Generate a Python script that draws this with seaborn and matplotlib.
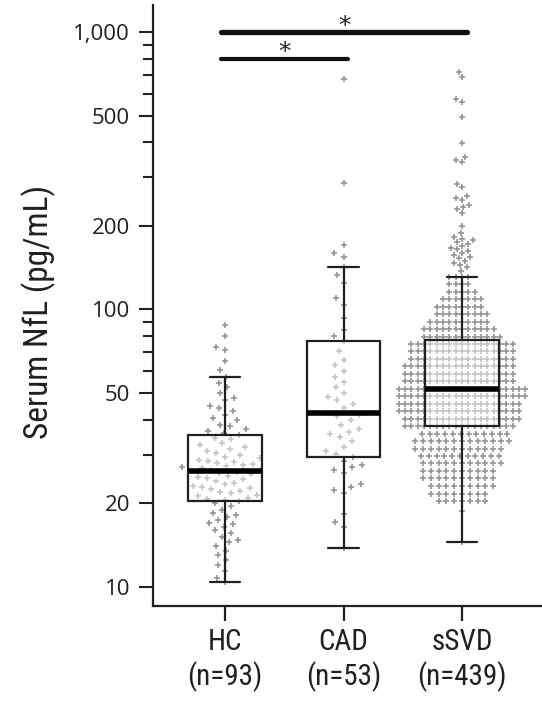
import numpy as np
import pandas as pd
import matplotlib
matplotlib.use("Agg")
import matplotlib.pyplot as plt
from matplotlib import font_manager
from matplotlib.ticker import FixedLocator, FixedFormatter, NullFormatter
import seaborn as sns
import seaborn.categorical as sc

# ---------------- data ----------------
groups = ["HC", "CAD", "sSVD"]
group_ns = [93, 53, 439]

hc_values = [88, 80, 73.5, 71.5, 65, 60.5,
             57.0, 54.5, 52.5, 50.0, 48.0, 47.0, 45.0, 44.0, 43.0, 41.5, 40.5, 40.0,
             38.5, 38.0, 37.0, 36.5, 35.8,
             35.3, 34.5, 34.0, 33.0, 32.5, 32.0, 31.5, 31.0, 30.5, 30.0, 29.5, 29.2,
             28.8, 28.5, 28.2, 28.0, 27.8, 27.5, 27.2, 27.0, 26.8, 26.5, 26.3,
             26.2,
             26.0, 25.8, 25.5, 25.2, 25.0, 24.7, 24.4, 24.0, 23.7, 23.5, 23.2, 23.0,
             22.7, 22.5, 22.2, 22.0, 21.8, 21.5, 21.3, 21.0, 20.8, 20.6, 20.4,
             20.0, 19.5, 19.0, 18.5, 18.2, 17.8, 17.4, 17.0, 16.8, 16.4, 16.0, 15.6,
             15.2, 14.8, 14.5, 14.0, 13.5, 13.0, 12.5, 12.0, 11.4, 10.8, 10.4]

cad_values = [28.5, 27.5, 27.0, 26.5, 25.8, 23.5, 23.0, 22.3, 21.8, 18.3, 17.2, 16.4, 13.8,
              29.4, 30.2, 31.0, 32.0, 33.5, 34.6, 35.5, 36.3, 37.2, 38.5, 40.0, 41.4, 41.8,
              42.4,
              44.0, 45.5, 47.0, 48.5, 50.0, 52.5, 55.0, 57.0, 60.0, 63.0, 66.0, 71.0, 77.0,
              80, 84, 93, 104, 110, 125, 133, 142, 155, 160, 171, 286, 676]

# sSVD: dot-plot rows (level, number of points in the row) + individual high points
ssvd_levels = [14.5, 18.8, 20.4, 21.7, 23.1, 24.6, 26.2, 27.9, 29.6, 31.5, 33.6, 35.7,
               38.0, 40.4, 43.0, 45.8, 48.7, 51.8, 55.1, 58.6, 62.4, 66.4, 70.6, 75.1,
               79.9, 85.0, 90.5, 96.3, 102.4, 109.0, 116.0, 123.4, 131.3]
ssvd_counts = [1, 1, 7, 8, 9, 10, 10, 11, 11, 12, 13, 12,
               18, 19, 20, 20, 21, 21, 18, 18, 18, 17, 17, 17,
               13, 12, 10, 9, 8, 7, 5, 4, 4]
ssvd_high = [138, 142, 145, 147, 150, 153, 155, 157, 160, 163, 165, 167, 170, 172,
             175, 178, 180, 183, 189, 200, 223, 230, 235, 238, 248, 252, 256, 276,
             283, 340, 347, 355, 398, 494, 560, 572, 690, 720]

y_ticks = [10, 20, 50, 100, 200, 500, 1000]
y_ticklabels = ["10", "20", "50", "100", "200", "500", "1,000"]
y_minor = [30, 40, 60, 70, 80, 90, 300, 400, 600, 700, 800, 900]

comparisons = [("HC", "sSVD"), ("HC", "CAD")]
comparison_levels = [1000, 800]
comparison_marks = ["*", "*"]

# ---------------- build table ----------------
ssvd_values = list(np.repeat(ssvd_levels, ssvd_counts)) + ssvd_high
df = pd.DataFrame({
    "group": ["HC"] * len(hc_values) + ["CAD"] * len(cad_values) + ["sSVD"] * len(ssvd_values),
    "nfl": hc_values + cad_values + ssvd_values,
})

# swarm layout: wider gutter and per-group point spacing (markers may interlock,
# as in the reference's dot plot). spacing = (value threshold, factor below, factor above)
_Bee = sc.Beeswarm
class WideBeeswarm(_Bee):
    spacing = {0: (0, 1.05, 1.05), 1: (0, 1.15, 1.15), 2: (37.0, 0.86, 0.7)}

    def __init__(self, orient="x", width=0.8, warn_thresh=.05):
        super().__init__(orient=orient, width=width * 1.5, warn_thresh=warn_thresh)

    def __call__(self, points, center):
        thr, f_lo, f_hi = self.spacing.get(int(round(center)), (0, 1.0, 1.0))
        s = np.array(points.get_sizes()).copy()
        vals = np.asarray(points.get_offsets())[:, 1]
        edge = float(np.array(points.get_linewidths()).ravel()[0])
        f = np.where(vals < thr, f_lo, f_hi)
        diam = np.sqrt(s if s.size > 1 else np.repeat(s, len(vals)))
        new_s = np.clip(f * (diam + edge) - edge, 0.1, None) ** 2
        points.set_sizes(new_s)
        try:
            super().__call__(points, center)
        finally:
            points.set_sizes(s)
sc.Beeswarm = WideBeeswarm

sns.set_style("white")
installed = {f.name for f in font_manager.fontManager.ttflist}
cond = [f for f in ["Roboto Condensed", "Liberation Sans Narrow", "Arial Narrow",
                    "Open Sans Condensed", "Roboto"] if f in installed] + ["DejaVu Sans"]
plt.rcParams["font.family"] = ["Open Sans", "DejaVu Sans"]
INK = "#231f20"

fig = plt.figure(figsize=(5.42, 7.01), dpi=100)
ax = fig.add_axes([153 / 542, 95 / 701, 389 / 542, 601 / 701])

sns.swarmplot(data=df, x="group", y="nfl", order=groups, marker="+", size=5.0,
              color="#959595", linewidth=1.2, ax=ax, zorder=1)
sns.boxplot(data=df, x="group", y="nfl", order=groups, width=0.62, whis=1.5,
            showfliers=False, color="white", linecolor=INK, linewidth=1.6,
            capwidths=0.26,
            boxprops=dict(facecolor=(1, 1, 1, 0.45), zorder=2),
            medianprops=dict(color="black", linewidth=4.0, zorder=3),
            whiskerprops=dict(zorder=3), capprops=dict(zorder=3), ax=ax)

ax.set_yscale("log")
ax.set_ylim(8.54, 1251)
ax.set_xlim(-0.6076, 2.675)

ax.yaxis.set_major_locator(FixedLocator(y_ticks))
ax.yaxis.set_major_formatter(FixedFormatter(y_ticklabels))
ax.yaxis.set_minor_locator(FixedLocator(y_minor))
ax.yaxis.set_minor_formatter(NullFormatter())

ax.set_xticks(range(len(groups)))
ax.set_xticklabels([f"{g}\n(n={n})" for g, n in zip(groups, group_ns)],
                   family=cond, fontsize=21, color=INK, linespacing=1.2)
for lab in ax.get_yticklabels():
    lab.set_fontsize(16)
    lab.set_color(INK)

ax.set_xlabel("")
ax.set_ylabel("Serum NfL (pg/mL)", family=cond, fontsize=24, color=INK)
ax.yaxis.set_label_coords(-0.25, 0.49)

for s in ["top", "right"]:
    ax.spines[s].set_visible(False)
for s in ["left", "bottom"]:
    ax.spines[s].set_linewidth(1.6)
    ax.spines[s].set_color(INK)

ax.tick_params(axis="y", which="major", direction="out", length=10, width=1.5,
               color=INK, pad=6.5, left=True)
ax.tick_params(axis="y", which="minor", direction="out", length=7, width=1.5,
               color=INK, left=True)
ax.tick_params(axis="x", which="major", direction="out", length=11, width=1.6,
               color=INK, pad=5, bottom=True)

pos = {g: i for i, g in enumerate(groups)}
for (a, b), lvl, mark in zip(comparisons, comparison_levels, comparison_marks):
    x0, x1 = pos[a] - 0.03, pos[b] + 0.04
    ax.plot([x0, x1], [lvl, lvl], color="#111111", lw=3.8 if lvl == 1000 else 3.0,
            solid_capstyle="round", clip_on=False, zorder=5)
    ax.text((x0 + x1) / 2, lvl * 0.995, mark, ha="center", va="baseline",
            fontsize=18, color="#222222", family="DejaVu Sans")

fig.savefig("out.png", dpi=100)
